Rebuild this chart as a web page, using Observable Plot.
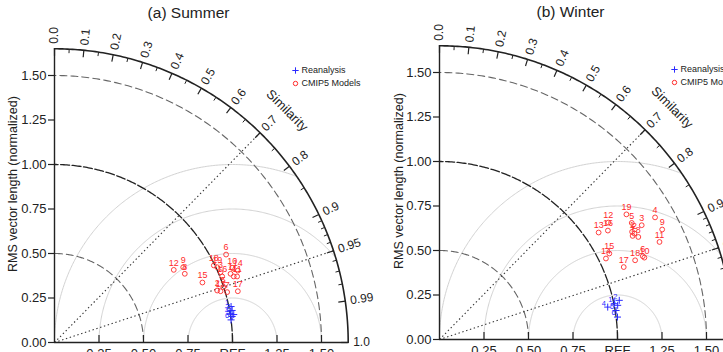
<!DOCTYPE html>
<html><head><meta charset="utf-8">
<script src="https://cdn.jsdelivr.net/npm/d3@7"></script>
<script src="https://cdn.jsdelivr.net/npm/@observablehq/plot@0.6"></script>
<style>body{margin:0;background:#fff}#chart{width:723px;height:352px;overflow:hidden}</style>
</head><body><div id="chart"></div>
<script>
// ---- data ----
const panelTitles = ["(a) Summer", "(b) Winter"];
const yAxisTitle = "RMS vector length (normalized)";
const legendLabels = ["Reanalysis", "CMIP5 Models"];
const arcTitle = "Similarity";

const corrMajor = [0, 0.1, 0.2, 0.3, 0.4, 0.5, 0.6, 0.7, 0.8, 0.9, 0.95, 0.99, 1.0];
const corrMajorLabels = ["0.0","0.1","0.2","0.3","0.4","0.5","0.6","0.7","0.8","0.9","0.95","0.99","1.0"];
const corrMinor = [0.05,0.15,0.25,0.35,0.45,0.55,0.65,0.75,0.85,0.91,0.92,0.93,0.94,0.96,0.97,0.98];
const stdTicks = [0, 0.25, 0.5, 0.75, 1.0, 1.25, 1.5];
const stdTickLabels = ["0.00","0.25","0.50","0.75","1.00","1.25","1.50"];
const xTicks = [0.25, 0.5, 0.75, 1.0, 1.25, 1.5];
const xTickLabels = ["0.25","0.50","0.75","REF","1.25","1.50"];
const stdArcsGrey = [0.5, 1.5];
const stdArcRef = [1.0];
const rmsRadii = [0.25, 0.5, 0.75, 1.0];
const dottedCorr = [0.7, 0.95];
const maxStd = 1.65;

// Summer (a)
const summerModelLabels = ["1","2","3","4","5","6","7","8","9","10","11","12","13","14","15","16","17","18","19"];
const summerModelX = [0.989,0.914,0.933,1.007,0.948,0.964,0.970,0.732,0.723,0.998,1.026,0.670,0.933,1.030,0.831,0.942,1.030,0.895,0.914];
const summerModelY = [0.386,0.292,0.395,0.371,0.311,0.494,0.283,0.386,0.423,0.420,0.371,0.408,0.288,0.404,0.337,0.371,0.288,0.433,0.423];
const summerReanLabels = ["1","2","3","4","5","6"];
const summerReanX = [0.992,0.998,0.989,1.007,0.998,0.992];
const summerReanY = [0.202,0.180,0.161,0.157,0.146,0.127];

// Winter (b)
const winterModelLabels = ["19","5","3","4","9","11","12","16","13","1","2","7","8","14","15","17","18","6","10"];
const winterModelX = [1.050,1.080,1.136,1.211,1.251,1.236,0.948,0.946,0.894,1.082,1.095,1.085,1.117,0.935,0.954,1.035,1.099,1.142,1.151];
const winterModelY = [0.703,0.655,0.642,0.686,0.618,0.548,0.657,0.612,0.601,0.605,0.595,0.582,0.576,0.455,0.483,0.407,0.445,0.468,0.460];
const winterReanLabels = ["1","2","3","4","5","6"];
const winterReanX = [0.982,1.010,1.001,0.945,0.992,1.000];
const winterReanY = [0.201,0.220,0.192,0.182,0.163,0.126];

// ---- build ----
const U = 178;           // px per normalized unit
const deg = Math.PI / 180;
const red = "#ff2a2a", blue = "#2a2aff";
const sinOf = c => Math.sqrt(Math.max(0, 1 - c * c));
const zip = (l, x, y) => l.map((t, i) => ({label: t, x: x[i], y: y[i]}));

const panels = [
  {title: panelTitles[0], models: zip(summerModelLabels, summerModelX, summerModelY),
   rean: zip(summerReanLabels, summerReanX, summerReanY), dx: 0, dy: 0,
   titlePx: [134, 329], ytPx: -42, legPx: [241, 272]},
  {title: panelTitles[1], models: zip(winterModelLabels, winterModelX, winterModelY),
   rean: zip(winterReanLabels, winterReanX, winterReanY), dx: 385, dy: -3,
   titlePx: [131, 327], ytPx: -41, legPx: [235, 270]}
];

function arc(r, a0 = 0, a1 = 90) {
  return d3.range(a0, a1 + 0.001, 0.5).map(a => ({r, x: r * Math.cos(a * deg), y: r * Math.sin(a * deg)}));
}

function panelMarks(p) {
  const o = {dx: p.dx, dy: p.dy};
  const m = [];
  const rms = rmsRadii.flatMap(r => d3.range(0, 180.001, 0.5)
    .map(a => ({r, x: 1 + r * Math.cos(a * deg), y: r * Math.sin(a * deg)}))
    .filter(d => Math.hypot(d.x, d.y) <= maxStd));
  m.push(Plot.line(rms, {x: "x", y: "y", z: "r", stroke: "#d2d2d2", strokeWidth: 1, ...o}));
  m.push(Plot.line(stdArcsGrey.flatMap(r => arc(r)), {x: "x", y: "y", z: "r", stroke: "#666", strokeWidth: 1.1, strokeDasharray: "7,4", ...o}));
  m.push(Plot.line(stdArcRef.flatMap(r => arc(r)), {x: "x", y: "y", z: "r", stroke: "#222", strokeWidth: 1.3, strokeDasharray: "9,2.5", ...o}));
  m.push(Plot.link(dottedCorr, {x1: () => 0, y1: () => 0, x2: c => maxStd * c, y2: c => maxStd * sinOf(c),
    stroke: "#333", strokeWidth: 1.1, strokeDasharray: "1.4,2.6", ...o}));
  m.push(Plot.line(arc(maxStd), {x: "x", y: "y", stroke: "#222", strokeWidth: 1.6, ...o}));
  m.push(Plot.ruleX([0], {y1: 0, y2: maxStd, stroke: "#222", strokeWidth: 1.4, ...o}));
  m.push(Plot.ruleY([0], {x1: 0, x2: maxStd, stroke: "#222", strokeWidth: 1.4, ...o}));
  m.push(Plot.ruleY(stdTicks, {x1: () => 0, x2: () => -6 / U, stroke: "#222", strokeWidth: 1.2, ...o}));
  m.push(Plot.text(stdTicks, {x: () => 0, y: d => d, text: (d, i) => stdTickLabels[i], textAnchor: "end",
    fontSize: 13, fill: "#222", dx: p.dx - 8, dy: p.dy}));
  m.push(Plot.ruleX(xTicks, {y1: () => 0, y2: () => 7 / U, stroke: "#222", strokeWidth: 1.2, ...o}));
  m.push(Plot.text(xTicks, {x: d => d, y: () => 0, text: (d, i) => xTickLabels[i], lineAnchor: "top",
    fontSize: 13, fill: "#222", dx: p.dx, dy: p.dy + 6}));
  m.push(Plot.link(corrMajor, {x1: c => maxStd * c, y1: c => maxStd * sinOf(c),
    x2: c => (maxStd - 7 / U) * c, y2: c => (maxStd - 7 / U) * sinOf(c), stroke: "#222", strokeWidth: 1.2, ...o}));
  m.push(Plot.link(corrMinor, {x1: c => maxStd * c, y1: c => maxStd * sinOf(c),
    x2: c => (maxStd - 4 / U) * c, y2: c => (maxStd - 4 / U) * sinOf(c), stroke: "#222", strokeWidth: 1, ...o}));
  const rl = maxStd + 5 / U;
  m.push(Plot.text(corrMajor, {x: c => rl * c, y: c => rl * sinOf(c), text: (c, i) => corrMajorLabels[i],
    rotate: c => -Math.acos(c) / deg, textAnchor: "start", fontSize: 12, fill: "#222", ...o}));
  const sc = 0.708, sr = 1.846;
  m.push(Plot.text([arcTitle], {x: () => sr * sc, y: () => sr * sinOf(sc), rotate: 90 - Math.acos(sc) / deg,
    fontSize: 13, fill: "#222", ...o}));
  m.push(Plot.text([p.title], {x: () => p.titlePx[0] / U, y: () => p.titlePx[1] / U, fontSize: 15.5, fill: "#222", ...o}));
  m.push(Plot.text([yAxisTitle], {x: () => p.ytPx / U, y: () => 0.89, rotate: -90, fontSize: 12.5, fill: "#222", ...o}));
  const lx = p.legPx[0] / U, ly = p.legPx[1] / U;
  m.push(Plot.dot([0], {x: () => lx, y: () => ly, symbol: "plus", r: 2.2, stroke: blue, strokeWidth: 1, ...o}));
  m.push(Plot.dot([0], {x: () => lx, y: () => ly - 13 / U, r: 2.2, stroke: red, fill: "none", strokeWidth: 1, ...o}));
  m.push(Plot.text(legendLabels, {x: () => lx, y: (d, i) => ly - i * 13 / U, text: d => d, textAnchor: "start",
    fontSize: 9, fill: "#222", dx: p.dx + 6, dy: p.dy}));
  m.push(Plot.dot(p.models, {x: "x", y: "y", r: 2.4, stroke: red, fill: "none", strokeWidth: 0.9, ...o}));
  m.push(Plot.text(p.models, {x: "x", y: "y", text: "label", fill: red, fontSize: 9, dx: p.dx, dy: p.dy - 7}));
  m.push(Plot.dot(p.rean, {x: "x", y: "y", symbol: "plus", r: 2.4, stroke: blue, strokeWidth: 1, ...o}));
  m.push(Plot.text(p.rean, {x: "x", y: "y", text: "label", fill: blue, fontSize: 7.5, dx: p.dx - 4, dy: p.dy - 4}));
  return m;
}

const chart = Plot.plot({
  width: 723, height: 352,
  marginLeft: 0, marginRight: 0, marginTop: 0, marginBottom: 0,
  x: {type: "linear", domain: [0, 1.5], range: [54, 54 + 1.5 * U], axis: null},
  y: {type: "linear", domain: [0, 1.5], range: [342, 342 - 1.5 * U], axis: null},
  style: {fontFamily: "'Liberation Sans', Arial, Helvetica, sans-serif", background: "#fff"},
  marks: panels.flatMap(panelMarks)
});
document.getElementById("chart").appendChild(chart);
</script></body></html>
